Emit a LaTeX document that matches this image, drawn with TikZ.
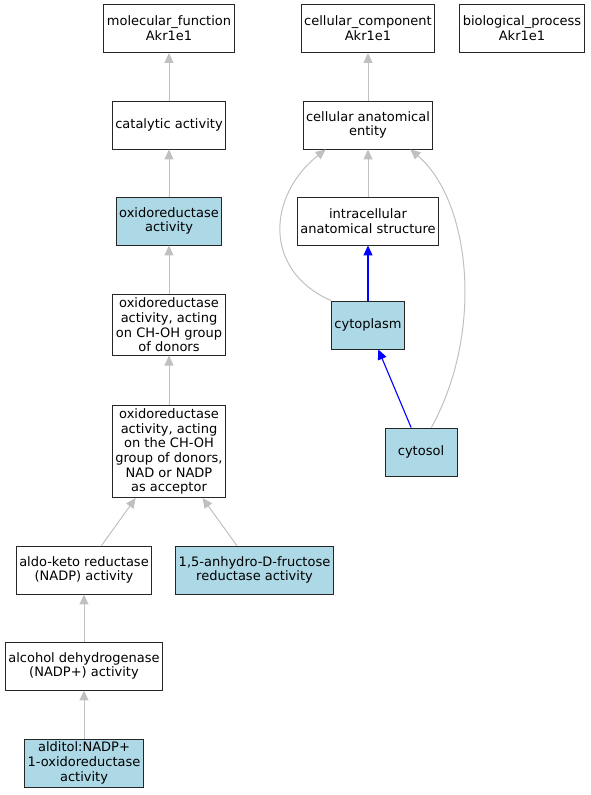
\documentclass[tikz,border=0pt]{standalone}
\usepackage{fontspec}
\setmainfont{DejaVu Sans}
\usetikzlibrary{arrows.meta, positioning, calc}
\definecolor{termfill}{RGB}{173,216,230}
\definecolor{isagray}{RGB}{192,192,192}
\definecolor{partblue}{RGB}{0,0,255}

\begin{document}
\begin{tikzpicture}[
    x=1pt, y=-1pt,
    term/.style={rectangle, draw=black!85, line width=0.9pt, fill=white,
                 minimum height=48pt, minimum width=72pt,
                 inner xsep=3pt, inner ysep=3pt,
                 align=center, font=\fontsize{13}{14.7}\selectfont},
    hiterm/.style={term, fill=termfill},
    isa/.style={-{Triangle[length=10pt,width=9pt]}, line width=1pt,
                color=isagray},
    partof/.style={-{Triangle[length=10pt,width=9pt]}, line width=1.1pt,
                   color=partblue},
]
\useasboundingbox (0,0) rectangle (591,795);

% ======================================================
% Left: molecular function branch
% ======================================================
\node[term] (molfun) at (169, 28.5) {molecular\_function\\Akr1e1};
\node[term] (catact) at (169, 125) {catalytic activity};
\node[hiterm] (oxred) at (169, 221) {oxidoreductase\\activity};
\node[term] (chohdon) at (169, 325)
     {oxidoreductase\\activity, acting\\on CH-OH group\\of donors};
\node[term] (nadacc) at (169, 451.5)
     {oxidoreductase\\activity, acting\\on the CH-OH\\group of donors,\\NAD or NADP\\as acceptor};
\node[term] (aldoketo) at (84, 570) {aldo-keto reductase\\(NADP) activity};
\node[hiterm] (anhydro) at (254.5, 570)
     {1,5-anhydro-D-fructose\\reductase activity};
\node[term] (alcdehyd) at (84, 666) {alcohol dehydrogenase\\(NADP+) activity};
\node[hiterm] (alditol) at (84, 763)
     {alditol:NADP+\\1-oxidoreductase\\activity};

\draw[isa] (catact) -- (molfun);
\draw[isa] (oxred) -- (catact);
\draw[isa] (chohdon) -- (oxred);
\draw[isa] (nadacc) -- (chohdon);
\draw[isa] (aldoketo) -- (nadacc);
\draw[isa] (anhydro) -- (nadacc);
\draw[isa] (alcdehyd) -- (aldoketo);
\draw[isa] (alditol) -- (alcdehyd);

% ======================================================
% Right: cellular component branch
% ======================================================
\node[term] (celcomp) at (368, 28.5) {cellular\_component\\Akr1e1};
\node[term] (bioproc) at (522, 28.5) {biological\_process\\Akr1e1};
\node[term] (cae) at (368, 125) {cellular anatomical\\entity};
\node[term] (intra) at (368, 221) {intracellular\\anatomical structure};
\node[hiterm] (cytoplasm) at (368, 325) {cytoplasm};
\node[hiterm] (cytosol) at (421, 452) {cytosol};

\draw[isa] (cae) -- (celcomp);
\draw[isa] (intra) -- (cae);
\draw[partof] (cytoplasm) -- (intra);
\draw[partof] (cytosol.112) -- (cytoplasm);

% is_a shortcuts to cellular anatomical entity
\draw[isa] (cytoplasm.north west)
     .. controls (262,270) and (268,195) .. (cae.-150);
\draw[isa] (cytosol.67)
     .. controls (485,330) and (470,200) .. (cae.-30);

\end{tikzpicture}
\end{document}
